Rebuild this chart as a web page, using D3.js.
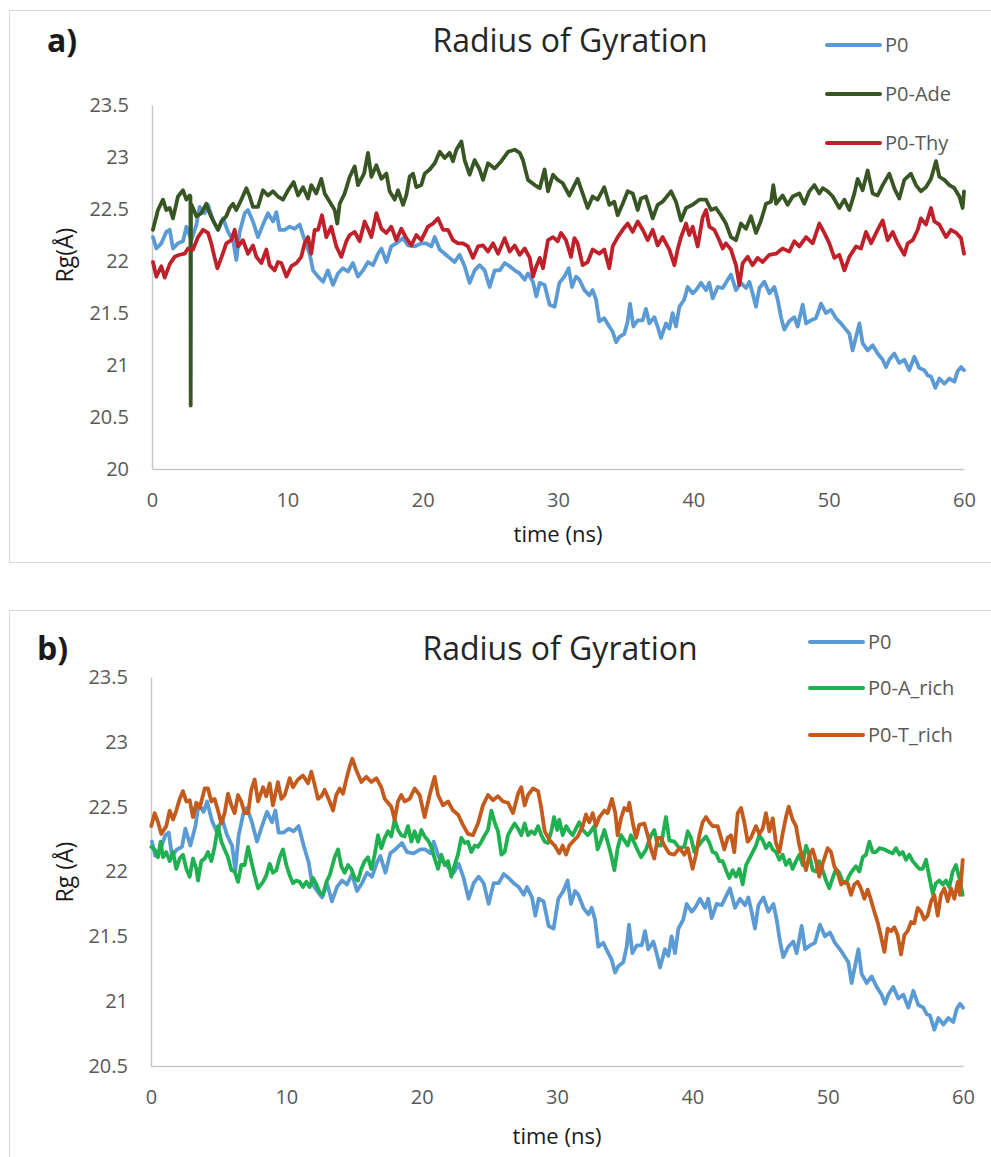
<!DOCTYPE html>
<html>
<head>
<meta charset="utf-8">
<script src="https://cdn.jsdelivr.net/npm/d3@7"></script>
<style>
  body { margin: 0; background: #fff; }
  svg { display: block; font-family: "Open Sans", sans-serif; }
</style>
</head>
<body>
<svg id="chart" width="991" height="1157"></svg>
<script>
"use strict";

// ---- data (time ns, Rg Å) ----
const xTicks = [0, 10, 20, 30, 40, 50, 60];
const yTicksA = [20, 20.5, 21, 21.5, 22, 22.5, 23, 23.5];
const yTicksB = [20.5, 21, 21.5, 22, 22.5, 23, 23.5];

const p0 = [[0.07,22.23],[0.32,22.12],[0.69,22.17],[1.06,22.28],[1.31,22.30],[1.55,22.12],[1.92,22.17],[2.29,22.19],[2.54,22.33],[2.91,22.20],[3.28,22.35],[3.52,22.52],[3.89,22.46],[4.14,22.54],[4.51,22.39],[4.88,22.30],[5.25,22.41],[5.62,22.28],[5.99,22.20],[6.23,22.01],[6.48,22.28],[6.85,22.46],[7.09,22.49],[7.46,22.38],[7.83,22.23],[8.20,22.35],[8.57,22.46],[8.94,22.38],[9.19,22.47],[9.43,22.30],[9.80,22.30],[10.17,22.33],[10.54,22.31],[10.91,22.35],[11.28,22.20],[11.65,22.07],[11.90,21.91],[12.27,21.85],[12.64,21.80],[13.00,21.91],[13.37,21.77],[13.74,21.88],[14.11,21.93],[14.48,21.90],[14.85,21.98],[15.22,21.85],[15.59,21.91],[15.96,21.99],[16.33,21.96],[16.70,22.07],[16.95,22.12],[17.32,21.99],[17.68,22.14],[18.05,22.17],[18.55,22.22],[18.92,22.15],[19.41,22.14],[19.90,22.17],[20.27,22.17],[20.64,22.14],[20.89,22.23],[21.26,22.11],[21.63,22.07],[21.99,22.03],[22.36,21.99],[22.73,22.06],[23.10,21.95],[23.47,21.79],[23.84,21.91],[24.21,21.96],[24.58,21.91],[24.95,21.75],[25.32,21.91],[25.69,21.91],[26.06,21.98],[26.43,21.95],[26.80,21.91],[27.17,21.88],[27.54,21.82],[27.78,21.88],[28.15,21.80],[28.40,21.66],[28.65,21.79],[29.01,21.77],[29.38,21.58],[29.75,21.56],[30.10,21.79],[30.47,21.85],[30.79,21.93],[31.03,21.75],[31.33,21.85],[31.58,21.82],[31.95,21.72],[32.32,21.67],[32.56,21.72],[32.81,21.63],[33.05,21.42],[33.42,21.45],[33.79,21.37],[34.04,21.32],[34.29,21.22],[34.53,21.27],[34.90,21.30],[35.15,21.42],[35.32,21.59],[35.57,21.37],[35.89,21.43],[36.26,21.43],[36.50,21.54],[36.75,21.40],[37.12,21.46],[37.36,21.37],[37.61,21.26],[37.98,21.40],[38.23,21.35],[38.47,21.50],[38.72,21.37],[38.97,21.56],[39.33,21.63],[39.58,21.75],[39.95,21.69],[40.20,21.72],[40.57,21.79],[40.94,21.72],[41.18,21.79],[41.43,21.64],[41.80,21.75],[42.17,21.74],[42.54,21.82],[42.78,21.87],[43.15,21.72],[43.52,21.79],[43.89,21.74],[44.14,21.80],[44.38,21.69],[44.63,21.56],[44.88,21.74],[45.25,21.80],[45.62,21.69],[45.99,21.75],[46.23,21.63],[46.48,21.46],[46.72,21.34],[47.09,21.42],[47.46,21.46],[47.71,21.37],[48.08,21.58],[48.33,21.40],[48.69,21.43],[49.06,21.45],[49.43,21.59],[49.80,21.50],[50.17,21.53],[50.54,21.45],[50.91,21.40],[51.28,21.34],[51.53,21.30],[51.77,21.14],[52.02,21.27],[52.27,21.40],[52.51,21.21],[52.88,21.14],[53.25,21.19],[53.62,21.11],[53.99,21.05],[54.24,20.98],[54.48,21.05],[54.85,21.11],[55.22,21.02],[55.59,21.05],[55.96,20.95],[56.33,21.08],[56.70,20.97],[57.07,20.95],[57.32,20.90],[57.56,20.89],[57.88,20.78],[58.18,20.87],[58.55,20.82],[58.92,20.87],[59.29,20.84],[59.53,20.94],[59.78,20.98],[60.0,20.95]];

const p0Ade = [[0.07,22.30],[0.44,22.49],[0.81,22.59],[1.06,22.49],[1.31,22.51],[1.55,22.41],[1.92,22.62],[2.29,22.68],[2.54,22.59],[2.78,22.63],[2.84,22.62],[2.86,20.61],[2.88,22.55],[3.03,22.51],[3.28,22.43],[3.65,22.46],[4.01,22.55],[4.26,22.46],[4.51,22.39],[4.88,22.30],[5.12,22.38],[5.49,22.43],[5.74,22.51],[5.99,22.55],[6.23,22.49],[6.60,22.59],[6.97,22.70],[7.22,22.62],[7.46,22.52],[7.83,22.52],[8.20,22.68],[8.57,22.63],[8.94,22.67],[9.31,22.62],[9.68,22.59],[10.05,22.68],[10.47,22.76],[10.79,22.63],[11.16,22.71],[11.53,22.60],[11.77,22.73],[12.14,22.65],[12.51,22.79],[12.76,22.65],[13.13,22.57],[13.50,22.49],[13.69,22.36],[13.87,22.55],[14.24,22.65],[14.61,22.81],[14.98,22.91],[15.22,22.73],[15.67,22.84],[15.96,23.04],[16.21,22.81],[16.58,22.92],[16.95,22.79],[17.32,22.84],[17.56,22.67],[17.93,22.59],[18.18,22.68],[18.55,22.54],[18.79,22.63],[19.04,22.81],[19.29,22.84],[19.53,22.71],[19.90,22.73],[20.15,22.84],[20.52,22.88],[20.89,22.94],[21.26,23.05],[21.63,22.99],[21.99,23.04],[22.24,22.96],[22.49,23.07],[22.86,23.15],[23.10,22.97],[23.47,22.83],[23.84,22.97],[24.21,22.88],[24.46,22.78],[24.83,22.94],[25.32,22.89],[25.81,22.96],[26.31,23.05],[26.80,23.07],[27.17,23.04],[27.41,22.97],[27.78,22.78],[28.28,22.73],[28.65,22.70],[29.01,22.88],[29.26,22.67],[29.63,22.83],[29.98,22.78],[30.34,22.75],[30.84,22.63],[31.21,22.73],[31.45,22.79],[31.82,22.65],[32.19,22.51],[32.56,22.62],[32.93,22.59],[33.42,22.71],[33.79,22.54],[34.16,22.57],[34.41,22.44],[34.78,22.55],[35.15,22.67],[35.52,22.65],[35.89,22.49],[36.13,22.60],[36.50,22.62],[37.00,22.41],[37.36,22.54],[37.73,22.57],[38.35,22.67],[38.72,22.57],[39.09,22.39],[39.46,22.51],[39.95,22.54],[40.44,22.59],[40.94,22.59],[41.31,22.49],[41.67,22.51],[42.04,22.44],[42.41,22.36],[42.78,22.23],[43.15,22.20],[43.52,22.36],[43.89,22.31],[44.26,22.43],[44.63,22.27],[45.00,22.39],[45.37,22.55],[45.74,22.57],[45.91,22.73],[46.11,22.55],[46.60,22.63],[46.97,22.54],[47.34,22.62],[47.83,22.65],[48.20,22.55],[48.57,22.67],[48.94,22.73],[49.31,22.65],[49.56,22.70],[49.93,22.67],[50.30,22.62],[50.79,22.51],[51.16,22.59],[51.53,22.49],[51.90,22.65],[52.14,22.79],[52.51,22.68],[52.88,22.87],[53.25,22.65],[53.62,22.63],[53.99,22.73],[54.48,22.84],[54.85,22.70],[55.22,22.60],[55.59,22.78],[56.08,22.84],[56.45,22.73],[56.82,22.67],[57.19,22.71],[57.56,22.79],[57.93,22.96],[58.18,22.81],[58.55,22.78],[58.92,22.73],[59.29,22.70],[59.66,22.62],[59.90,22.51],[60.0,22.67]];

const p0Thy = [[0.07,21.99],[0.32,21.85],[0.69,21.95],[0.94,21.84],[1.31,21.97],[1.67,22.04],[2.04,22.06],[2.41,22.07],[2.66,22.12],[3.03,22.11],[3.40,22.23],[3.77,22.30],[4.14,22.27],[4.38,22.17],[4.63,22.03],[4.83,21.93],[5.12,22.03],[5.49,22.17],[5.86,22.20],[6.11,22.30],[6.35,22.14],[6.72,22.20],[7.09,22.07],[7.46,22.15],[7.71,22.04],[8.08,21.98],[8.45,22.11],[8.69,21.96],[9.06,21.91],[9.31,21.99],[9.56,21.98],[9.93,21.85],[10.30,21.95],[10.67,21.98],[11.03,22.04],[11.28,22.17],[11.53,22.23],[11.77,22.07],[12.02,22.30],[12.27,22.30],[12.56,22.44],[12.88,22.23],[13.25,22.33],[13.62,22.14],[13.99,22.04],[14.36,22.19],[14.61,22.25],[14.98,22.28],[15.34,22.19],[15.71,22.38],[15.96,22.31],[16.21,22.23],[16.58,22.46],[16.95,22.31],[17.32,22.27],[17.68,22.33],[18.05,22.20],[18.42,22.31],[18.79,22.22],[19.16,22.15],[19.53,22.25],[19.90,22.20],[20.39,22.33],[20.76,22.36],[21.13,22.41],[21.50,22.30],[21.87,22.30],[22.24,22.20],[22.61,22.17],[22.98,22.17],[23.35,22.14],[23.72,22.03],[24.09,22.14],[24.46,22.15],[24.83,22.09],[25.20,22.17],[25.57,22.07],[26.06,22.22],[26.43,22.09],[26.80,22.15],[27.17,22.06],[27.54,22.12],[27.91,22.03],[28.15,21.85],[28.40,21.95],[28.65,22.03],[28.89,21.93],[29.26,22.20],[29.63,22.23],[29.98,22.19],[30.22,22.27],[30.59,22.20],[30.96,22.04],[31.21,22.22],[31.45,22.17],[31.82,21.96],[32.19,21.99],[32.56,22.11],[33.05,22.07],[33.42,22.11],[33.79,21.93],[34.04,22.14],[34.41,22.23],[34.78,22.30],[35.15,22.36],[35.52,22.28],[35.89,22.38],[36.26,22.30],[36.63,22.20],[37.00,22.30],[37.36,22.15],[37.73,22.23],[38.23,22.11],[38.60,21.96],[38.84,22.11],[39.09,22.23],[39.46,22.36],[39.70,22.25],[39.95,22.33],[40.32,22.14],[40.69,22.42],[40.94,22.49],[41.18,22.33],[41.55,22.30],[41.92,22.20],[42.17,22.12],[42.41,22.17],[42.78,22.11],[43.15,21.96],[43.40,21.77],[43.65,21.98],[44.01,22.04],[44.38,21.96],[44.75,22.03],[45.12,21.99],[45.62,22.06],[46.11,22.07],[46.60,22.12],[47.09,22.09],[47.46,22.19],[47.83,22.14],[48.33,22.23],[48.82,22.17],[49.31,22.36],[49.68,22.27],[50.05,22.17],[50.42,22.03],[50.79,22.06],[51.16,21.91],[51.53,22.04],[52.02,22.14],[52.39,22.12],[52.76,22.28],[53.13,22.17],[53.62,22.30],[53.99,22.39],[54.36,22.20],[54.73,22.28],[55.10,22.17],[55.59,22.06],[55.84,22.17],[56.21,22.20],[56.58,22.30],[56.82,22.41],[57.19,22.35],[57.56,22.51],[57.81,22.38],[58.18,22.35],[58.67,22.23],[59.04,22.30],[59.43,22.27],[59.78,22.22],[60.0,22.07]];

const p0ARich = [[0.02,22.19],[0.27,22.17],[0.52,22.11],[0.71,22.23],[0.89,22.11],[1.13,22.15],[1.38,22.08],[1.63,22.15],[1.87,22.02],[2.12,22.10],[2.36,22.13],[2.61,22.02],[2.86,21.96],[3.10,22.10],[3.35,22.02],[3.47,21.93],[3.72,22.08],[3.97,22.10],[4.21,22.15],[4.46,22.08],[4.70,22.19],[4.95,22.35],[5.20,22.23],[5.44,22.17],[5.69,22.11],[5.94,22.01],[6.18,22.00],[6.43,21.92],[6.67,22.05],[6.92,22.05],[7.17,22.19],[7.41,22.08],[7.66,21.97],[7.91,21.87],[8.28,21.92],[8.52,21.97],[8.77,22.06],[9.01,21.99],[9.26,22.01],[9.51,22.11],[9.75,22.17],[10.0,22.05],[10.25,21.97],[10.49,21.91],[10.74,21.93],[10.99,21.92],[11.23,21.88],[11.48,21.92],[11.72,21.88],[11.97,21.95],[12.22,21.90],[12.46,21.84],[12.71,21.82],[12.96,21.92],[13.20,21.97],[13.57,22.11],[13.82,22.17],[14.06,22.04],[14.31,21.99],[14.56,22.05],[14.80,22.02],[15.05,21.95],[15.30,21.93],[15.54,22.02],[15.79,22.08],[16.03,22.11],[16.28,22.02],[16.53,22.13],[16.77,22.28],[17.02,22.18],[17.27,22.26],[17.51,22.31],[17.76,22.27],[18.0,22.40],[18.25,22.32],[18.50,22.28],[18.74,22.27],[18.99,22.35],[19.24,22.23],[19.48,22.31],[19.73,22.23],[19.98,22.32],[20.22,22.27],[20.47,22.24],[20.71,22.19],[20.96,22.10],[21.21,22.02],[21.45,22.13],[21.70,22.05],[21.95,22.08],[22.19,21.96],[22.44,22.05],[22.68,22.13],[22.93,22.26],[23.18,22.22],[23.42,22.23],[23.67,22.15],[23.92,22.20],[24.16,22.19],[24.41,22.23],[24.66,22.28],[24.90,22.32],[25.15,22.47],[25.39,22.38],[25.64,22.31],[25.89,22.13],[26.13,22.15],[26.38,22.28],[26.63,22.33],[26.87,22.37],[27.12,22.33],[27.36,22.28],[27.61,22.37],[27.86,22.28],[28.10,22.31],[28.35,22.29],[28.60,22.35],[28.84,22.28],[29.09,22.23],[29.33,22.22],[29.58,22.31],[29.78,22.42],[30.02,22.32],[30.17,22.40],[30.42,22.28],[30.67,22.35],[30.91,22.31],[31.16,22.28],[31.40,22.33],[31.65,22.38],[31.90,22.32],[32.27,22.28],[32.51,22.31],[32.76,22.35],[33.0,22.17],[33.25,22.24],[33.50,22.32],[33.74,22.23],[33.99,22.13],[34.24,22.01],[34.48,22.18],[34.73,22.28],[34.98,22.24],[35.22,22.20],[35.47,22.28],[35.84,22.19],[36.21,22.11],[36.58,22.17],[36.95,22.28],[37.19,22.32],[37.44,22.20],[37.68,22.20],[38.05,22.42],[38.30,22.24],[38.67,22.23],[39.04,22.18],[39.41,22.19],[39.66,22.31],[39.90,22.26],[40.15,22.15],[40.39,22.19],[40.76,22.24],[41.01,22.27],[41.26,22.22],[41.50,22.15],[41.75,22.14],[42.0,22.08],[42.24,22.08],[42.49,22.01],[42.73,21.95],[42.98,22.01],[43.23,21.96],[43.47,22.02],[43.72,21.90],[43.97,22.05],[44.21,22.10],[44.46,22.15],[44.70,22.20],[44.95,22.28],[45.20,22.24],[45.44,22.18],[45.69,22.22],[45.94,22.17],[46.18,22.15],[46.43,22.09],[46.67,22.13],[46.92,22.05],[47.17,22.09],[47.41,22.02],[47.66,22.08],[47.91,22.13],[48.15,22.05],[48.40,22.20],[48.65,22.13],[48.89,22.01],[49.14,22.00],[49.38,22.08],[49.63,22.01],[49.88,21.93],[50.12,21.87],[50.37,21.95],[50.62,22.02],[50.86,21.99],[51.11,21.92],[51.35,21.91],[51.60,21.97],[51.85,22.01],[52.09,22.04],[52.34,22.00],[52.59,22.11],[52.83,22.13],[53.08,22.23],[53.33,22.15],[53.57,22.15],[53.82,22.18],[54.19,22.17],[54.56,22.15],[54.80,22.14],[55.05,22.18],[55.30,22.13],[55.54,22.15],[55.79,22.09],[56.03,22.13],[56.28,22.08],[56.53,22.05],[56.77,22.02],[57.02,22.02],[57.27,22.09],[57.51,21.96],[57.76,21.83],[58.0,21.91],[58.25,21.93],[58.50,21.90],[58.74,21.93],[58.99,21.88],[59.24,22.00],[59.48,22.05],[59.73,21.95],[59.98,21.82]];

const p0TRich = [[0.02,22.35],[0.27,22.45],[0.52,22.38],[0.76,22.29],[1.13,22.35],[1.38,22.47],[1.63,22.40],[1.87,22.47],[2.12,22.56],[2.36,22.62],[2.61,22.54],[2.86,22.55],[3.10,22.42],[3.35,22.53],[3.60,22.49],[3.97,22.64],[4.21,22.64],[4.46,22.54],[4.70,22.56],[4.95,22.47],[5.20,22.37],[5.44,22.45],[5.69,22.60],[5.94,22.51],[6.18,22.45],[6.43,22.59],[6.67,22.54],[6.92,22.45],[7.17,22.45],[7.41,22.63],[7.66,22.71],[7.91,22.54],[8.28,22.65],[8.52,22.58],[8.77,22.68],[9.01,22.51],[9.38,22.69],[9.63,22.56],[9.88,22.59],[10.25,22.72],[10.49,22.65],[10.86,22.71],[11.23,22.74],[11.60,22.68],[11.85,22.77],[12.09,22.67],[12.34,22.56],[12.59,22.58],[12.83,22.63],[13.20,22.54],[13.45,22.47],[13.69,22.59],[13.94,22.64],[14.19,22.60],[14.43,22.71],[14.68,22.81],[14.88,22.87],[15.17,22.78],[15.54,22.69],[15.91,22.73],[16.28,22.69],[16.65,22.72],[17.02,22.65],[17.27,22.56],[17.51,22.53],[17.76,22.50],[18.0,22.40],[18.25,22.54],[18.50,22.59],[18.74,22.54],[19.11,22.56],[19.48,22.64],[19.85,22.59],[20.22,22.42],[20.59,22.59],[20.96,22.73],[21.21,22.59],[21.58,22.51],[21.95,22.54],[22.32,22.47],[22.68,22.44],[23.05,22.36],[23.42,22.29],[23.79,22.28],[24.16,22.37],[24.53,22.51],[24.90,22.59],[25.27,22.55],[25.64,22.58],[26.01,22.54],[26.38,22.53],[26.75,22.45],[27.12,22.60],[27.36,22.65],[27.61,22.51],[27.86,22.59],[28.23,22.64],[28.60,22.62],[28.84,22.49],[29.09,22.31],[29.46,22.24],[29.83,22.20],[30.17,22.14],[30.42,22.20],[30.67,22.13],[30.91,22.20],[31.16,22.23],[31.53,22.27],[31.90,22.35],[32.14,22.44],[32.39,22.38],[32.64,22.45],[32.88,22.35],[33.13,22.42],[33.50,22.47],[33.74,22.45],[34.06,22.56],[34.31,22.45],[34.48,22.28],[34.73,22.41],[34.98,22.49],[35.22,22.47],[35.34,22.53],[35.59,22.38],[35.84,22.26],[36.08,22.36],[36.45,22.37],[36.70,22.28],[36.95,22.17],[37.19,22.10],[37.44,22.26],[37.68,22.26],[37.93,22.20],[38.30,22.14],[38.67,22.13],[39.04,22.18],[39.41,22.13],[39.66,22.18],[40.02,22.02],[40.27,22.13],[40.52,22.28],[40.76,22.38],[41.01,22.42],[41.26,22.38],[41.50,22.35],[41.87,22.35],[42.12,22.26],[42.36,22.17],[42.61,22.26],[42.86,22.28],[43.10,22.15],[43.35,22.45],[43.60,22.49],[43.84,22.38],[44.09,22.23],[44.33,22.26],[44.70,22.35],[44.95,22.29],[45.20,22.33],[45.44,22.45],[45.69,22.31],[45.94,22.41],[46.18,22.22],[46.43,22.15],[46.67,22.29],[46.92,22.42],[47.12,22.50],[47.41,22.40],[47.66,22.35],[47.91,22.20],[48.15,22.10],[48.40,22.01],[48.65,22.13],[48.89,22.17],[49.14,22.08],[49.38,21.96],[49.63,22.06],[50.0,22.18],[50.25,22.15],[50.49,22.04],[50.74,21.99],[50.99,21.90],[51.23,21.92],[51.48,21.91],[51.72,21.82],[51.97,21.90],[52.22,21.92],[52.46,21.87],[52.71,21.79],[52.96,21.86],[53.20,21.78],[53.45,21.69],[53.69,21.61],[53.94,21.50],[54.19,21.38],[54.43,21.56],[54.68,21.54],[54.93,21.57],[55.17,21.51],[55.42,21.36],[55.67,21.51],[55.91,21.54],[56.16,21.61],[56.40,21.60],[56.65,21.72],[56.90,21.69],[57.14,21.63],[57.39,21.66],[57.64,21.77],[57.88,21.82],[58.13,21.66],[58.37,21.82],[58.62,21.87],[58.87,21.77],[59.11,21.87],[59.36,21.79],[59.61,21.92],[59.78,21.82],[59.98,22.09]];

const seriesA = [
  { name: "P0", data: p0, color: "#5b9bd5" },
  { name: "P0-Ade", data: p0Ade, color: "#375623" },
  { name: "P0-Thy", data: p0Thy, color: "#c0202a" }
];
const seriesB = [
  { name: "P0", data: p0, color: "#5b9bd5" },
  { name: "P0-A_rich", data: p0ARich, color: "#1fb050" },
  { name: "P0-T_rich", data: p0TRich, color: "#c55a1d" }
];

const svg = d3.select("#chart");

function drawPanel(p) {
    let g = svg.append("g");

    // frame
    g.append("rect")
    .attr("x", p.frame[0]).attr("y", p.frame[1])
    .attr("width", p.frame[2]).attr("height", p.frame[3])
    .attr("fill", "none").attr("stroke", "#d9d9d9").attr("stroke-width", 1);

    let x = d3.scaleLinear().domain([0, 60]).range([p.left, p.right]);
    let y = d3.scaleLinear().domain(p.yDomain).range([p.bottom, p.top]);

    // y axis
    let ya = g.append("g")
    .attr("transform", `translate(${p.left},0)`)
    .call(d3.axisLeft(y).tickValues(p.yTicks).tickSize(0).tickSizeOuter(0).tickPadding(23).tickFormat(d => String(d)));
    ya.select(".domain").attr("stroke", "#c8c8c8").attr("stroke-width", 1.5);
    ya.selectAll("text").attr("fill", "#595959").style("font-size", "20px").style("font-family", "Open Sans");

    // x axis
    let xa = g.append("g")
    .attr("transform", `translate(0,${p.bottom})`)
    .call(d3.axisBottom(x).tickValues(xTicks).tickSize(0).tickSizeOuter(0).tickPadding(p.xPad).tickFormat(d => String(d)));
    xa.select(".domain").attr("stroke", "#c8c8c8").attr("stroke-width", 1.5);
    xa.selectAll("text").attr("fill", "#595959").style("font-size", "20px").style("font-family", "Open Sans");

    // lines
    let line = d3.line().x(d => x(d[0])).y(d => y(d[1]));
    p.series.forEach(s => {
        g.append("path")
        .datum(s.data)
        .attr("d", line)
        .attr("fill", "none")
        .attr("stroke", s.color)
        .attr("stroke-width", 3.8)
        .attr("stroke-linejoin", "round")
        .attr("stroke-linecap", "round");
    });

    // titles
    g.append("text")
    .attr("x", p.titleX).attr("y", p.titleY)
    .attr("text-anchor", "middle")
    .attr("fill", "#262626")
    .style("font-size", "32px")
    .text("Radius of Gyration");

    g.append("text")
    .attr("x", p.tagX).attr("y", p.titleY)
    .attr("fill", "#1a1a1a")
    .style("font-size", "32px").style("font-weight", "bold")
    .text(p.tag);

    g.append("text")
    .attr("x", (p.left + p.right) / 2).attr("y", p.xLabelY)
    .attr("text-anchor", "middle")
    .attr("fill", "#1a1a1a")
    .style("font-size", "22px")
    .text("time (ns)");

    g.append("text")
    .attr("transform", `translate(${p.yLabelX},${p.yLabelY}) rotate(-90)`)
    .attr("text-anchor", "middle")
    .attr("fill", "#1a1a1a")
    .style("font-size", "23px")
    .text(p.yLabel);

    // legend
    p.series.forEach((s, i) => {
        let ly = p.legendY[i];
        g.append("line")
        .attr("x1", p.legendX).attr("x2", p.legendX + 53)
        .attr("y1", ly).attr("y2", ly)
        .attr("stroke", s.color).attr("stroke-width", 4).attr("stroke-linecap", "round");
        g.append("text")
        .attr("x", p.legendX + 58).attr("y", ly + 7)
        .attr("fill", "#595959")
        .style("font-size", "20px")
        .text(s.name);
    });
}

drawPanel({
    frame: [9.5, 10.5, 990, 552],
    left: 152, right: 964, top: 105, bottom: 469,
    yDomain: [20, 23.5], yTicks: yTicksA, xPad: 24,
    series: seriesA,
    titleX: 570, titleY: 52, tag: "a)", tagX: 47,
    xLabelY: 542, yLabel: "Rg(Å)", yLabelX: 73, yLabelY: 255,
    legendX: 827, legendY: [45, 94, 143]
});

drawPanel({
    frame: [9.5, 610.5, 990, 560],
    left: 151, right: 963, top: 677, bottom: 1066,
    yDomain: [20.5, 23.5], yTicks: yTicksB, xPad: 24,
    series: seriesB,
    titleX: 560, titleY: 660, tag: "b)", tagX: 37,
    xLabelY: 1144, yLabel: "Rg (Å)", yLabelX: 73, yLabelY: 872,
    legendX: 810, legendY: [642, 688, 735]
});
</script>
</body>
</html>
